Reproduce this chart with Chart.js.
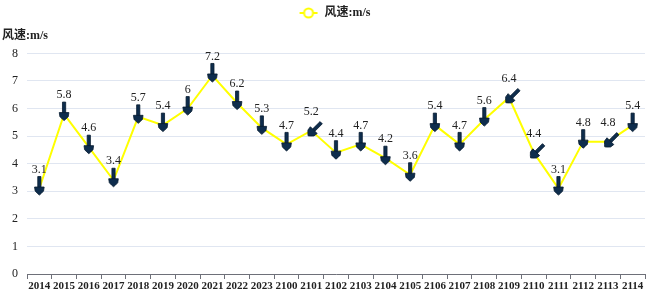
<!DOCTYPE html>
<html>
<head>
<meta charset="utf-8">
<script src="https://cdn.jsdelivr.net/npm/chart.js@4.4.0/dist/chart.umd.min.js"></script>
<style>
body { margin: 0; background: #fff; }
#wrap { width: 649px; height: 293px; }
</style>
</head>
<body>
<div id="wrap"><canvas id="chartWind"></canvas></div>
<script>
const periods = ['2014', '2015', '2016', '2017', '2018', '2019', '2020', '2021', '2022', '2023',
    '2100', '2101', '2102', '2103', '2104', '2105', '2106', '2107', '2108', '2109',
    '2110', '2111', '2112', '2113', '2114']
const windSpeed = [3.1, 5.8, 4.6, 3.4, 5.7, 5.4, 6, 7.2, 6.2, 5.3,
    4.7, 5.2, 4.4, 4.7, 4.2, 3.6, 5.4, 4.7, 5.6, 6.4,
    4.4, 3.1, 4.8, 4.8, 5.4]
// arrow rotation in degrees, 0 = pointing down, 45 = pointing down-left
const windDir = [0, 0, 0, 0, 0, 0, 0, 0, 0, 0,
    0, 45, 0, 0, 0, 0, 0, 0, 0, 45,
    45, 0, 0, 45, 0]

const serif = '"Liberation Serif", "Noto Sans CJK SC", serif';

// legend icon: line with hollow circle, drawn on the right part of the box
const legendIcon = document.createElement('canvas');
legendIcon.width = 42;
legendIcon.height = 12;
(function () {
    const c = legendIcon.getContext('2d');
    c.strokeStyle = '#ffff00';
    c.lineWidth = 2;
    c.beginPath();
    c.moveTo(23, 6); c.lineTo(41, 6);
    c.stroke();
    c.beginPath();
    c.arc(32, 6, 4.5, 0, Math.PI * 2);
    c.fillStyle = '#fff';
    c.fill();
    c.stroke();
})();

const windArrows = {
    id: 'windArrows',
    afterDatasetsDraw(chart) {
        const ctx = chart.ctx;
        const meta = chart.getDatasetMeta(0);
        meta.data.forEach((pt, i) => {
            ctx.save();
            ctx.translate(pt.x, pt.y + 2);
            ctx.rotate(windDir[i] * Math.PI / 180);
            ctx.fillStyle = '#0e2d4d';
            ctx.strokeStyle = '#081c30';
            ctx.lineWidth = 0.8;
            ctx.beginPath();
            ctx.rect(-1.6, -14, 3.2, 11);
            ctx.fill();
            ctx.stroke();
            ctx.beginPath();
            ctx.moveTo(-4.8, -3.5);
            ctx.lineTo(4.8, -3.5);
            ctx.lineTo(4.2, 0.5);
            ctx.quadraticCurveTo(1.5, 3.5, 0, 4.5);
            ctx.quadraticCurveTo(-1.5, 3.5, -4.2, 0.5);
            ctx.closePath();
            ctx.fill();
            ctx.stroke();
            ctx.restore();

            ctx.save();
            ctx.font = '12px ' + serif;
            ctx.fillStyle = '#222';
            ctx.textAlign = 'center';
            ctx.textBaseline = 'middle';
            ctx.fillText(String(windSpeed[i]), pt.x, pt.y - 19);
            ctx.restore();
        });
    }
};

var ctxWind = document.getElementById('chartWind').getContext('2d');
var chartWind = new Chart(ctxWind, {
    type: 'line',
    data: {
        labels: periods,
        datasets: [{
            label: '风速:m/s',
            data: windSpeed,
            borderColor: '#ffff00',
            backgroundColor: '#fff',
            borderWidth: 2,
            pointRadius: 0,
            pointHoverRadius: 0,
            tension: 0
        }]
    },
    options: {
        responsive: true,
        maintainAspectRatio: false,
        animation: false,
        devicePixelRatio: 1,
        layout: { padding: { left: 2, right: 4, top: 3, bottom: 0 } },
        plugins: {
            tooltip: { enabled: false },
            legend: {
                display: true,
                position: 'top',
                labels: {
                    usePointStyle: true,
                    pointStyle: legendIcon,
                    pointStyleWidth: 42,
                    padding: 4,
                    color: '#222',
                    font: { family: serif, size: 12, weight: 'bold' }
                }
            },
            title: {
                display: true,
                text: '风速:m/s',
                align: 'start',
                position: 'top',
                weight: 500,
                color: '#222',
                font: { family: serif, size: 12, weight: 'bold' },
                padding: { top: 0, bottom: 10 }
            }
        },
        scales: {
            x: {
                offset: true,
                grid: {
                    offset: true,
                    drawOnChartArea: false,
                    drawTicks: true,
                    tickLength: 5,
                    color: '#6E7079'
                },
                border: { color: '#6E7079', width: 1 },
                ticks: {
                    autoSkip: false,
                    maxRotation: 0,
                    padding: 1,
                    color: '#222',
                    font: { family: serif, size: 11, weight: 'bold' }
                },
                afterFit(scale) { scale.height = 19; }
            },
            y: {
                min: 0,
                max: 8,
                ticks: {
                    stepSize: 1,
                    padding: 9,
                    color: '#222',
                    font: { family: serif, size: 12 }
                },
                grid: { color: '#E0E6F1', drawTicks: false },
                border: { display: false },
                afterFit(scale) { scale.width = 25; }
            }
        }
    },
    plugins: [windArrows]
});
</script>
</body>
</html>
